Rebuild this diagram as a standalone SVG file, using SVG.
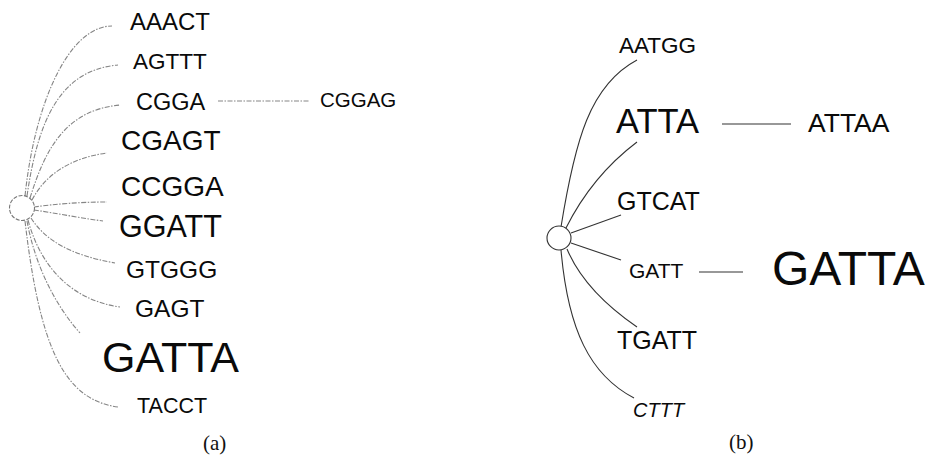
<svg xmlns="http://www.w3.org/2000/svg" width="929" height="455" viewBox="0 0 929 455">
  <style>
    .lbl { font-family: "Liberation Sans", Arial, Helvetica, sans-serif; fill: #0a0a0a; }
    .cap { font-family: "Liberation Serif", "Times New Roman", serif; fill: #111; font-size: 21px; }
    .edgeA { fill: none; stroke: #858585; stroke-width: 1.1; stroke-dasharray: 5 1.5 1.5 1.5; }
    .edgeB { fill: none; stroke: #333; stroke-width: 1.1; }
    .hubA { fill: #fff; stroke: #777; stroke-width: 1.1; stroke-dasharray: 4 1.5; }
    .hubB { fill: #fff; stroke: #333; stroke-width: 1.1; }
  </style>
  <rect width="929" height="455" fill="#fff"/>

  <!-- Panel (a): connectors -->
  <g id="edges-a">
    <path class="edgeA" d="M25,196 C35,100 70,26 112,26"/>
    <path class="edgeA" d="M27,196 C38,120 60,70 118,65"/>
    <path class="edgeA" d="M30,198 C45,150 65,110 120,105"/>
    <path class="edgeA" d="M32,200 C45,175 70,158 107,153"/>
    <path class="edgeA" d="M34,207 C55,204 80,202 107,202"/>
    <path class="edgeA" d="M34,210 C55,213 80,218 103,221"/>
    <path class="edgeA" d="M31,218 C45,240 70,255 115,263"/>
    <path class="edgeA" d="M28,220 C40,265 70,300 120,307"/>
    <path class="edgeA" d="M27,221 C35,265 55,305 80,333"/>
    <path class="edgeA" d="M25,221 C40,350 65,400 118,407"/>
    <path class="edgeA" d="M218,101 L310,101"/>
  </g>

  <!-- Panel (a): nodes -->
  <g id="root-a"><circle class="hubA" cx="22" cy="208" r="12.5"/></g>
  <g id="a-AAACT"><text class="lbl" x="130" y="30" font-size="24">AAACT</text></g>
  <g id="a-AGTTT"><text class="lbl" x="133" y="69" font-size="22.5">AGTTT</text></g>
  <g id="a-CGGA"><text class="lbl" x="136" y="110" font-size="23.5">CGGA</text></g>
  <g id="a-CGGAG"><text class="lbl" x="320" y="107" font-size="20.5">CGGAG</text></g>
  <g id="a-CGAGT"><text class="lbl" x="121" y="150" font-size="28">CGAGT</text></g>
  <g id="a-CCGGA"><text class="lbl" x="121" y="196" font-size="28">CCGGA</text></g>
  <g id="a-GGATT"><text class="lbl" x="119" y="237" font-size="30.5">GGATT</text></g>
  <g id="a-GTGGG"><text class="lbl" x="126" y="278" font-size="24.5">GTGGG</text></g>
  <g id="a-GAGT"><text class="lbl" x="135" y="317" font-size="24.5">GAGT</text></g>
  <g id="a-GATTA"><text class="lbl" x="102" y="372" font-size="43">GATTA</text></g>
  <g id="a-TACCT"><text class="lbl" x="137" y="413" font-size="21.5">TACCT</text></g>
  <text class="cap" x="203" y="450">(a)</text>

  <!-- Panel (b): connectors -->
  <g id="edges-b">
    <path class="edgeB" d="M561,227 C575,140 590,85 637,60"/>
    <path class="edgeB" d="M566,228 C580,200 600,170 637,142"/>
    <path class="edgeB" d="M571,233 L621,215"/>
    <path class="edgeB" d="M571,243 L621,260"/>
    <path class="edgeB" d="M567,249 C580,280 605,305 637,327"/>
    <path class="edgeB" d="M561,250 C568,330 590,375 634,398"/>
    <path class="edgeB" d="M722,124 L791,124"/>
    <path class="edgeB" d="M699,272 L743,272"/>
  </g>

  <!-- Panel (b): nodes -->
  <g id="root-b"><circle class="hubB" cx="559" cy="238" r="12"/></g>
  <g id="b-AATGG"><text class="lbl" x="619" y="53" font-size="22.5">AATGG</text></g>
  <g id="b-ATTA"><text class="lbl" x="616" y="133" font-size="34.5">ATTA</text></g>
  <g id="b-ATTAA"><text class="lbl" x="808" y="132" font-size="26.5">ATTAA</text></g>
  <g id="b-GTCAT"><text class="lbl" x="617" y="210" font-size="25">GTCAT</text></g>
  <g id="b-GATT"><text class="lbl" x="629" y="278" font-size="21">GATT</text></g>
  <g id="b-GATTA"><text class="lbl" x="772" y="285" font-size="48">GATTA</text></g>
  <g id="b-TGATT"><text class="lbl" x="617" y="349" font-size="25">TGATT</text></g>
  <g id="b-CTTT"><text class="lbl" x="633" y="417" font-size="20" font-style="italic">CTTT</text></g>
  <text class="cap" x="729" y="449">(b)</text>
</svg>
